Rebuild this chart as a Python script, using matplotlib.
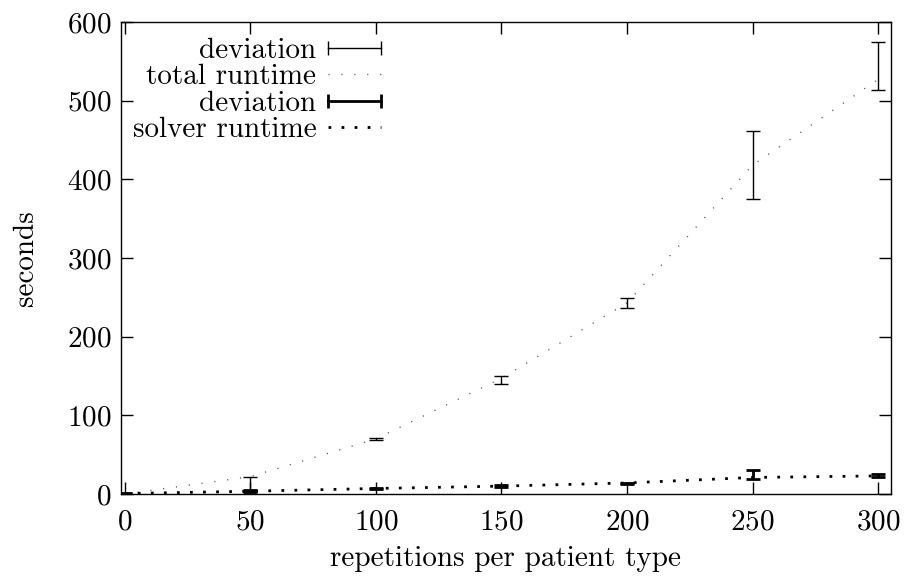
import matplotlib.pyplot as plt
from matplotlib.lines import Line2D
import numpy as np

plt.rcParams['font.family'] = ['cmr10', 'DejaVu Serif']
plt.rcParams['axes.formatter.use_mathtext'] = True

# repeticiones por tipo de paciente
reps = [0, 50, 100, 150, 200, 250, 300]

# tiempo total
total = [0, 22, 70, 147, 243, 418, 527]
total_lo = [0, 3, 68, 140, 236, 375, 513]
total_hi = [1, 22, 71, 150, 249, 462, 574]

# tiempo del solver
solver = [0.5, 3.5, 7, 10, 14, 21, 23]
solver_lo = [0, 3, 6, 9, 13, 19, 21]
solver_hi = [1, 5, 8, 11, 14.5, 30, 26]

xticks = [0, 50, 100, 150, 200, 250, 300]
yticks = [0, 100, 200, 300, 400, 500, 600]

FS = 21

fig = plt.figure(figsize=(9.07, 5.76), dpi=100)
ax = fig.add_axes([0.1334, 0.1424, 0.8486, 0.8194])

t = np.array(total)
s = np.array(solver)
err_t = [t - np.array(total_lo), np.array(total_hi) - t]
err_s = [s - np.array(solver_lo), np.array(solver_hi) - s]

ax.errorbar(reps, total, yerr=err_t, fmt='none', ecolor='black',
            elinewidth=1, capsize=4.7, capthick=1, zorder=3)
ax.plot(reps, total, color='#555555', lw=1, linestyle=(0, (0.8, 8.5)))
ax.errorbar(reps, solver, yerr=err_s, fmt='none', ecolor='black',
            elinewidth=2, capsize=4.7, capthick=2, zorder=3)
ax.plot(reps, solver, color='black', lw=2, linestyle=(0, (1, 3.7)))

ax.set_xlim(-1.5, 305)
ax.set_ylim(0, 600)
ax.set_xticks(xticks)
ax.set_yticks(yticks)
ax.tick_params(direction='in', length=8.6, width=1, top=True, right=True,
               labelsize=FS)
ax.tick_params(axis='x', pad=11)
ax.tick_params(axis='y', pad=7)
for sp in ax.spines.values():
    sp.set_linewidth(1)

ax.set_xlabel('repetitions per patient type', fontsize=FS, labelpad=7)
ax.set_ylabel('seconds', fontsize=FS, labelpad=20)

handles = [
    Line2D([], [], color='black', lw=1, marker='|', markersize=10, mew=1),
    Line2D([], [], color='#555555', lw=1, linestyle=(0, (0.8, 8.5))),
    Line2D([], [], color='black', lw=2, marker='|', markersize=10, mew=2),
    Line2D([], [], color='black', lw=2, linestyle=(0, (1, 3.7))),
]
labels = ['deviation', 'total runtime', 'deviation', 'solver runtime']
ax.legend(handles, labels, loc='upper right', frameon=False, markerfirst=False,
          numpoints=2, fontsize=FS, handlelength=2.42, handletextpad=0.1,
          labelspacing=0.0, borderaxespad=0, borderpad=0,
          bbox_to_anchor=(0.3495, 0.967))

fig.savefig('out.png', dpi=100)
